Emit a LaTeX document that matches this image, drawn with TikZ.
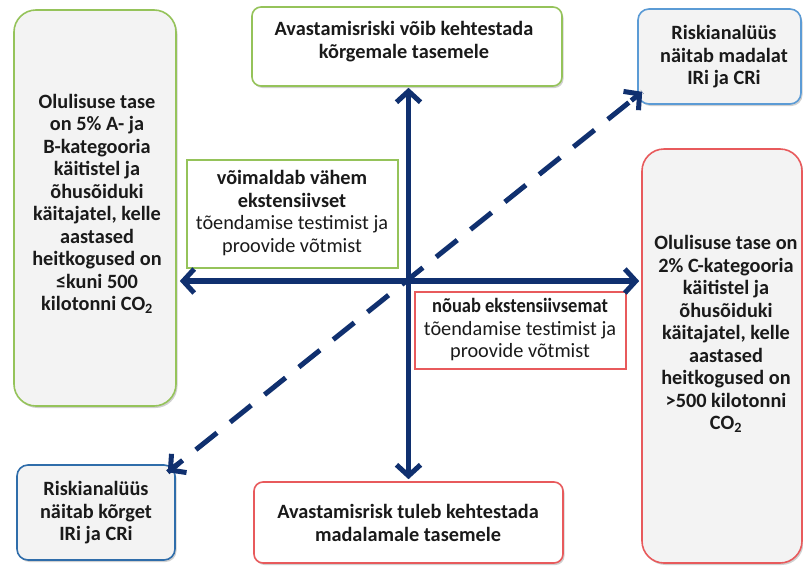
\documentclass[tikz,border=0pt]{standalone}
\usepackage{fontspec}
\setmainfont{Carlito}
\usetikzlibrary{arrows.meta,shadows,calc}
\definecolor{navy}{HTML}{10306F}
\definecolor{bgreen}{HTML}{95C35A}
\definecolor{bred}{HTML}{E85A5C}
\definecolor{bblue}{HTML}{5B9BD5}
\definecolor{dblue}{HTML}{2F6DAA}
\definecolor{boxfill}{HTML}{F3F3F3}
\definecolor{ink}{HTML}{1A1A1A}
\tikzset{
  shadowed/.style={drop shadow={shadow xshift=1.5pt,shadow yshift=-2pt,opacity=0.3,fill=black!60}},
  bigbox/.style={draw,line width=1.6pt,rounded corners=22pt,fill=boxfill,shadowed},
  midbox/.style={draw,line width=1.6pt,rounded corners=9pt,fill=white,shadowed},
  riskbox/.style={draw,line width=1.6pt,rounded corners=11pt,fill=boxfill,shadowed},
  flatbox/.style={draw,line width=1.5pt,fill=white},
  txt/.style={inner sep=0pt,align=center,text=ink,font=\fontsize{20.3}{22.5}\selectfont},
  btxt/.style={txt,font=\fontsize{20.3}{22.5}\selectfont\bfseries},
  barb/.style={-{Straight Barb[length=11pt,width=24pt,line width=5pt]}},
  axisline/.style={draw=navy,line width=5.5pt,barb},
  diagline/.style={draw=navy,line width=5pt,dash pattern=on 27pt off 17pt,dash phase=8pt},
  diagtip/.style={draw=navy,line width=5pt,solid,barb},
}
\begin{document}
\begin{tikzpicture}[x=1pt,y=-1pt]
\useasboundingbox[fill=white] (0,0) rectangle (803,565);
% boxes
\node[bigbox,draw=bgreen,minimum width=162pt,minimum height=396pt] (lbox) at (95,208) {};
\node[bigbox,draw=bred,minimum width=160pt,minimum height=414pt] (rbox) at (722,356) {};
\node[midbox,draw=bgreen,minimum width=310pt,minimum height=79pt] (tbox) at (407,46.5) {};
\node[midbox,draw=bred,minimum width=309pt,minimum height=81pt] (bbox) at (408.5,522.5) {};
\node[riskbox,draw=bblue,minimum width=163pt,minimum height=95pt] (trbox) at (719.5,56.5) {};
\node[riskbox,draw=dblue,minimum width=158pt,minimum height=95pt] (blbox) at (96,512.5) {};
\node[flatbox,draw=bgreen,minimum width=211pt,minimum height=108pt] (gbox) at (292.5,214) {};
\node[flatbox,draw=bred,minimum width=211pt,minimum height=77pt] (rsbox) at (520.5,330.5) {};
% texts
\node[btxt] (ltext) at (97,204) {Olulisuse tase\\on 5\% A- ja\\B-kategooria\\käitistel ja\\õhusõiduki\\käitajatel, kelle\\aastased\\heitkogused on\\≤kuni 500\\kilotonni CO\textsubscript{2}};
\node[btxt] (rtext) at (726,334) {Olulisuse tase on\\2\% C-kategooria\\käitistel ja\\õhusõiduki\\käitajatel, kelle\\aastased\\heitkogused on\\>500 kilotonni\\CO\textsubscript{2}};
\node[btxt] (ttext) at (404,41.5) {Avastamisriski võib kehtestada\\kõrgemale tasemele};
\node[btxt] (btext) at (408,523) {Avastamisrisk tuleb kehtestada\\madalamale tasemele};
\node[btxt] (trtext) at (724,57) {Riskianalüüs\\näitab madalat\\IRi ja CRi};
\node[btxt] (bltext) at (96,513) {Riskianalüüs\\näitab kõrget\\IRi ja CRi};
\node[txt] (gtext) at (292,213) {\textbf{võimaldab vähem}\\\textbf{ekstensiivset}\\tõendamise testimist ja\\proovide võtmist};
\node[txt] (rstext) at (520,330) {\scalebox{0.91}[1]{\textbf{nõuab ekstensiivsemat}}\\tõendamise testimist ja\\proovide võtmist};
% axes
\coordinate (c) at (408.5,281);
\coordinate (trtip) at ($(trbox.south west)+(5,-13)$);
\coordinate (bltip) at ($(blbox.north east)+(-8,8)$);
\draw[diagline] (bltip) -- (trtip);
\draw[diagtip] ($(trtip)!14pt!(bltip)$) -- (trtip);
\draw[diagtip] ($(bltip)!14pt!(trtip)$) -- (bltip);
\draw[axisline] (c) -- ($(c |- tbox.south)+(0,1)$);
\draw[axisline] (c) -- ($(c |- bbox.north)+(0,-2)$);
\draw[axisline] (c) -- ($(c -| lbox.east)+(3,0)$);
\draw[axisline] (c) -- ($(c -| rbox.west)+(-2,0)$);
\end{tikzpicture}
\end{document}
